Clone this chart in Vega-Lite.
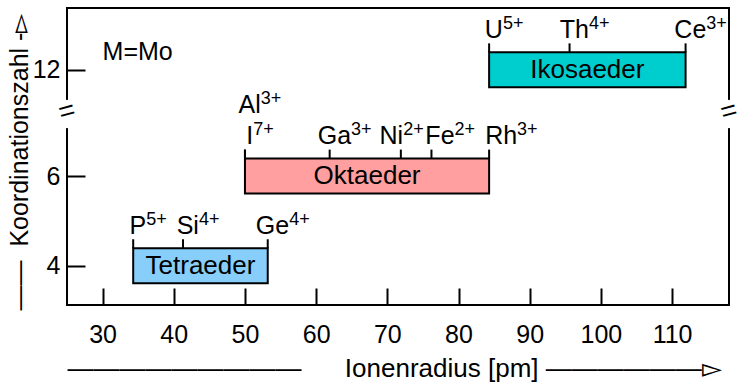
{
  "$schema": "https://vega.github.io/schema/vega-lite/v6.json",
  "width": 662,
  "height": 297,
  "autosize": "none",
  "padding": {"left": 67, "top": 8, "right": 8, "bottom": 78},
  "background": "white",
  "config": {
    "view": {"stroke": "black", "strokeWidth": 2},
    "font": "Liberation Sans",
    "axis": {"domain": false, "grid": false, "tickColor": "black", "tickWidth": 2, "labelColor": "black", "titleColor": "black", "labelFont": "Liberation Sans", "titleFont": "Liberation Sans", "titleFontWeight": "normal", "labelFontSize": 25, "titleFontSize": 25, "titleLimit": 2000, "labelLimit": 300}
  },
  "datasets": {
    "bars": [
      {"form": "Tetraeder", "cn": 4, "r": 34.3, "r2": 53.2},
      {"form": "Oktaeder", "cn": 6, "r": 50.0, "r2": 84.3},
      {"form": "Ikosaeder", "cn": 12, "r": 84.3, "r2": 111.9}
    ],
    "ions": [
      {"ion": "P", "charge": "5+", "r": 34.3, "cn": 4},
      {"ion": "Si", "charge": "4+", "r": 41.3, "cn": 4},
      {"ion": "Ge", "charge": "4+", "r": 53.2, "cn": 4},
      {"ion": "I", "charge": "7+", "r": 50.0, "cn": 6},
      {"ion": "Al", "charge": "3+", "r": 50.0, "cn": 6},
      {"ion": "Ga", "charge": "3+", "r": 61.9, "cn": 6},
      {"ion": "Ni", "charge": "2+", "r": 71.9, "cn": 6},
      {"ion": "Fe", "charge": "2+", "r": 76.2, "cn": 6},
      {"ion": "Rh", "charge": "3+", "r": 84.3, "cn": 6},
      {"ion": "U", "charge": "5+", "r": 84.3, "cn": 12},
      {"ion": "Th", "charge": "4+", "r": 95.6, "cn": 12},
      {"ion": "Ce", "charge": "3+", "r": 111.9, "cn": 12}
    ],
    "notes": [{"label": "M=Mo", "r": 30, "cn": 12.23}],
    "breaks": [{"r": 25}, {"r": 118}]
  },
  "layer": [
    {
      "data": {"name": "bars"},
      "mark": {"type": "rect", "stroke": "black", "strokeWidth": 2, "yOffset": -17.5, "y2Offset": 17.5},
      "encoding": {
        "x": {"field": "r", "type": "quantitative", "scale": {"domain": [25, 118], "nice": false, "zero": false},
          "axis": {"values": [30, 40, 50, 60, 70, 80, 90, 100, 110], "tickSize": -17, "labelPadding": 54, "labelBaseline": "alphabetic",
            "title": "—————————\u00a0\u00a0\u00a0\u00a0\u00a0\u00a0Ionenradius [pm]\u00a0——————▻",
            "titleFontSize": 26,
            "titleX": 0, "titleY": 71, "titleAlign": "left", "titleAnchor": "start", "titleBaseline": "alphabetic"}},
        "x2": {"field": "r2"},
        "y": {"field": "cn", "type": "quantitative", "scale": {"domain": [3.124, 7.43, 11.06, 13.38], "range": [297, 104, 104, 0], "nice": false, "zero": false},
          "axis": {"values": [4, 6, 12], "tickSize": -18, "labelPadding": 25, "labelBaseline": "middle",
            "title": "——\u00a0\u00a0Koordinationszahl\u00a0-▻",
            "titleX": -40, "titleY": 302, "titleAngle": 270, "titleAlign": "left", "titleAnchor": "start", "titleBaseline": "alphabetic"}},
        "y2": {"field": "cn"},
        "fill": {"field": "form", "type": "nominal", "scale": {"domain": ["Tetraeder", "Oktaeder", "Ikosaeder"], "range": ["#87CEFA", "#FF9F9F", "#00CDCD"]}, "legend": null}
      }
    },
    {
      "data": {"name": "bars"},
      "transform": [{"calculate": "(datum.r + datum.r2) / 2", "as": "mid"}],
      "mark": {"type": "text", "fontSize": 26, "align": "center", "baseline": "middle", "color": "black"},
      "encoding": {
        "x": {"field": "mid", "type": "quantitative"},
        "y": {"field": "cn", "type": "quantitative"},
        "text": {"field": "form"}
      }
    },
    {
      "data": {"name": "ions"},
      "mark": {"type": "rule", "color": "black", "strokeWidth": 2, "yOffset": -17.5, "y2Offset": -26.5},
      "encoding": {
        "x": {"field": "r", "type": "quantitative"},
        "y": {"field": "cn", "type": "quantitative"},
        "y2": {"field": "cn"}
      }
    },
    {
      "data": {"name": "ions"},
      "transform": [
        {"filter": "datum.ion !== 'Al'"},
        {"calculate": "datum.r + (datum.ion === 'Ni' ? -9.5 : datum.ion === 'Fe' ? 8.5 : datum.ion === 'Rh' ? 12 : 4.75) / 7.118", "as": "sx"}
      ],
      "mark": {"type": "text", "fontSize": 25, "align": "center", "baseline": "alphabetic", "dy": -32, "color": "black"},
      "encoding": {
        "x": {"field": "sx", "type": "quantitative"},
        "y": {"field": "cn", "type": "quantitative"},
        "text": {"field": "ion"}
      }
    },
    {
      "data": {"name": "ions"},
      "transform": [{"filter": "datum.ion === 'Al'"}],
      "mark": {"type": "text", "fontSize": 25, "align": "center", "baseline": "alphabetic", "dx": 4.75, "dy": -63, "color": "black"},
      "encoding": {
        "x": {"field": "r", "type": "quantitative"},
        "y": {"field": "cn", "type": "quantitative"},
        "text": {"field": "ion"}
      }
    },
    {
      "data": {"name": "ions"},
      "transform": [
        {"filter": "datum.ion !== 'Al'"},
        {"calculate": "substring(datum.ion, 0, 1)", "as": "c0"},
        {"calculate": "substring(datum.ion, 1, 2)", "as": "c1"},
        {"calculate": "datum.c0 === 'I' ? 0.278 : datum.c0 === 'G' ? 0.778 : indexof('NRUC', datum.c0) >= 0 ? 0.722 : indexof('FT', datum.c0) >= 0 ? 0.611 : 0.667", "as": "w0"},
        {"calculate": "datum.c1 === '' ? 0 : indexof('il', datum.c1) >= 0 ? 0.222 : 0.556", "as": "w1"},
        {"calculate": "datum.r + ((datum.ion === 'Ni' ? -9.5 : datum.ion === 'Fe' ? 8.5 : datum.ion === 'Rh' ? 12 : 4.75) + 25 * (datum.w0 + datum.w1) / 2) / 7.118", "as": "cx"}
      ],
      "mark": {"type": "text", "fontSize": 18, "align": "left", "baseline": "alphabetic", "dy": -41, "color": "black"},
      "encoding": {
        "x": {"field": "cx", "type": "quantitative"},
        "y": {"field": "cn", "type": "quantitative"},
        "text": {"field": "charge"}
      }
    },
    {
      "data": {"name": "ions"},
      "transform": [
        {"filter": "datum.ion === 'Al'"},
        {"calculate": "datum.r + 25 * (0.667 + 0.222) / 2 / 7.118", "as": "cx"}
      ],
      "mark": {"type": "text", "fontSize": 18, "align": "left", "baseline": "alphabetic", "dx": 4.75, "dy": -72, "color": "black"},
      "encoding": {
        "x": {"field": "cx", "type": "quantitative"},
        "y": {"field": "cn", "type": "quantitative"},
        "text": {"field": "charge"}
      }
    },
    {
      "data": {"name": "notes"},
      "mark": {"type": "text", "fontSize": 25, "align": "left", "baseline": "alphabetic", "color": "black"},
      "encoding": {
        "x": {"field": "r", "type": "quantitative"},
        "y": {"field": "cn", "type": "quantitative"},
        "text": {"field": "label"}
      }
    },
    {
      "data": {"name": "breaks"},
      "mark": {"type": "rect", "fill": "white", "xOffset": -4, "x2Offset": 4},
      "encoding": {
        "x": {"field": "r", "type": "quantitative"},
        "x2": {"field": "r"},
        "y": {"datum": 7.07, "type": "quantitative"},
        "y2": {"datum": 11.33}
      }
    },
    {
      "data": {"name": "breaks"},
      "mark": {"type": "text", "text": "=", "fontSize": 28, "angle": -15, "align": "center", "baseline": "middle", "color": "black"},
      "encoding": {
        "x": {"field": "r", "type": "quantitative"},
        "y": {"datum": 9, "type": "quantitative"}
      }
    }
  ]
}
